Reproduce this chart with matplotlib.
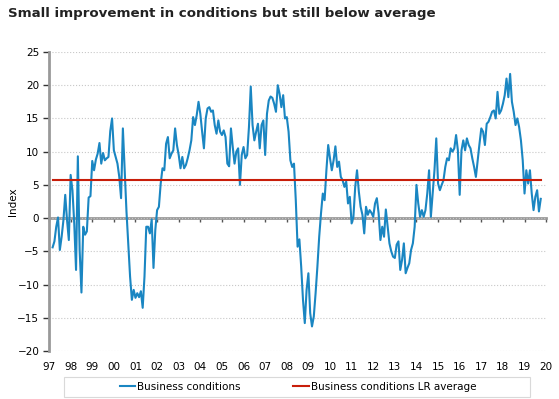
import numpy as np
import matplotlib
matplotlib.use('Agg')
import matplotlib.pyplot as plt
from matplotlib.patches import Rectangle

# monthly index values, Mar 1997 onwards
y1997 = [-4.4, -3.5, -1.3, 0.1, -4.8, -2.8, -0.3, 3.5, -0.3, -3.3]
y1998 = [6.5, 4.2, -0.8, -7.8, 9.3, -4.8, -11.2, -1.3, -2.5, -2.0, 3.1, 3.3]
y1999 = [8.6, 7.2, 8.8, 9.7, 11.3, 8.2, 9.8, 8.7, 9.0, 9.2, 13.1, 15.0]
y2000 = [10.2, 9.2, 8.2, 6.2, 3.0, 13.5, 7.2, 1.0, -3.8, -8.8, -12.3, -10.8]
y2001 = [-12.0, -11.3, -11.9, -11.0, -13.5, -8.8, -1.3, -1.3, -2.3, -0.2, -7.5, -1.8]
y2002 = [1.2, 1.7, 5.2, 7.5, 7.2, 11.2, 12.2, 9.0, 9.7, 10.2, 13.5, 11.0]
y2003 = [9.5, 7.5, 9.2, 7.5, 8.0, 9.0, 10.2, 11.7, 15.2, 14.0, 15.5, 17.5]
y2004 = [15.7, 13.0, 10.5, 15.0, 16.5, 16.7, 16.0, 16.2, 14.0, 12.7, 14.7, 13.0]
y2005 = [12.5, 13.2, 12.2, 8.2, 7.8, 13.5, 10.7, 8.2, 10.0, 10.5, 5.0, 9.5]
y2006 = [10.7, 9.0, 9.5, 13.7, 19.8, 14.0, 11.7, 13.0, 14.2, 10.5, 14.0, 14.7]
y2007 = [9.5, 15.7, 17.7, 18.3, 18.1, 17.2, 16.0, 20.0, 18.7, 16.7, 18.5, 15.0]
y2008 = [15.2, 13.0, 8.7, 7.7, 8.2, 2.7, -4.3, -3.2, -7.3, -12.3, -15.8, -10.8]
y2009 = [-8.3, -14.3, -16.3, -14.8, -11.3, -7.3, -2.8, 0.7, 3.7, 2.7, 7.2, 11.0]
y2010 = [9.0, 7.2, 8.7, 10.8, 7.7, 8.5, 6.2, 5.7, 4.7, 5.5, 2.2, 3.2]
y2011 = [-0.8, 0.2, 4.7, 7.2, 4.0, 1.7, 0.5, -2.3, 1.7, 0.5, 1.2, 0.8]
y2012 = [0.2, 2.2, 3.0, 0.7, -3.3, -1.3, -2.8, 1.3, -1.3, -3.8, -5.0, -5.8]
y2013 = [-6.0, -4.0, -3.5, -7.8, -6.3, -3.8, -8.3, -7.5, -6.8, -4.8, -3.8, -1.3]
y2014 = [5.0, 2.2, 0.2, 1.2, 0.2, 1.2, 3.7, 7.2, 0.2, 3.7, 7.2, 12.0]
y2015 = [5.2, 4.2, 5.0, 5.7, 7.7, 9.0, 8.7, 10.5, 10.0, 10.5, 12.5, 10.2]
y2016 = [3.5, 10.2, 11.7, 10.2, 12.0, 11.0, 10.5, 9.0, 7.7, 6.2, 8.7, 11.2]
y2017 = [13.5, 13.0, 11.0, 14.2, 14.5, 15.2, 16.0, 16.2, 15.0, 19.0, 15.7, 16.2]
y2018 = [17.2, 18.5, 21.0, 18.2, 21.7, 17.5, 16.0, 14.0, 15.0, 13.7, 11.7, 8.7]
y2019 = [3.7, 7.2, 5.2, 7.2, 3.7, 1.2, 3.2, 4.2, 1.0, 2.9]

lr_average = 5.8
start_year = 1997
start_month = 3
year_labels = ['97', '98', '99', '00', '01', '02', '03', '04', '05', '06', '07', '08',
               '09', '10', '11', '12', '13', '14', '15', '16', '17', '18', '19', '20']

conditions = np.array(y1997 + y1998 + y1999 + y2000 + y2001 + y2002 + y2003 + y2004
                      + y2005 + y2006 + y2007 + y2008 + y2009 + y2010 + y2011 + y2012
                      + y2013 + y2014 + y2015 + y2016 + y2017 + y2018 + y2019)
t = start_year + (start_month - 1 + np.arange(len(conditions))) / 12.0
avg = np.full(len(conditions), lr_average)

BLUE = '#1a86c2'
RED = '#c81e0a'
GREY = '#999999'

plt.rcParams['font.family'] = 'DejaVu Sans'
fig = plt.figure(figsize=(5.59, 3.99), dpi=100)
ax = fig.add_axes([0.0877, 0.1203, 0.8893, 0.7494])

ax.plot(t, conditions, color=BLUE, lw=1.5, label='Business conditions', zorder=3)
ax.plot(t, avg, color=RED, lw=1.5, label='Business conditions LR average', zorder=4)

ax.set_xlim(1997, 2020)
ax.set_ylim(-20, 25)
ax.set_yticks(np.arange(-20, 26, 5))
ax.tick_params(axis='y', labelsize=7.5, length=4, width=1, color='#333333', pad=3)
ax.set_ylabel('Index', fontsize=7.5)
ax.yaxis.set_label_coords(-0.062, 0.5)

years = np.arange(1997, 2021)
ax.set_xticks(years)
ax.set_xticklabels(year_labels)
ax.tick_params(axis='x', labelsize=7.5, length=0, pad=8)

ax.grid(axis='y', color='#c8c8c8', ls=':', lw=0.8)
for s in ['top', 'right', 'bottom']:
    ax.spines[s].set_visible(False)
ax.spines['left'].set_color(GREY)
ax.spines['left'].set_linewidth(2)

# zero axis with year ticks
zero = ax.secondary_xaxis(20 / 45.0)
zero.set_xticks(years)
zero.set_xticklabels([])
zero.tick_params(axis='x', direction='out', length=3, width=1, color='#555555')
zero.spines['bottom'].set_color(GREY)
zero.spines['bottom'].set_linewidth(2)

fig.text(0.014, 0.965, 'Small improvement in conditions but still below average',
         fontsize=9.6, fontweight='bold', color='#222222', va='center')

# legend entries, with a wider frame drawn around them
fig.legend(loc='center', bbox_to_anchor=(0.533, 0.031), ncol=2, fontsize=7.5,
           frameon=False, handlelength=1.5, handletextpad=0.2, columnspacing=5)
fig.patches.append(Rectangle((64 / 559, 2 / 399), 466 / 559, 20 / 399,
                             transform=fig.transFigure, fill=False,
                             edgecolor='#d9d9d9', lw=0.8))

fig.savefig('out.png', dpi=100)
